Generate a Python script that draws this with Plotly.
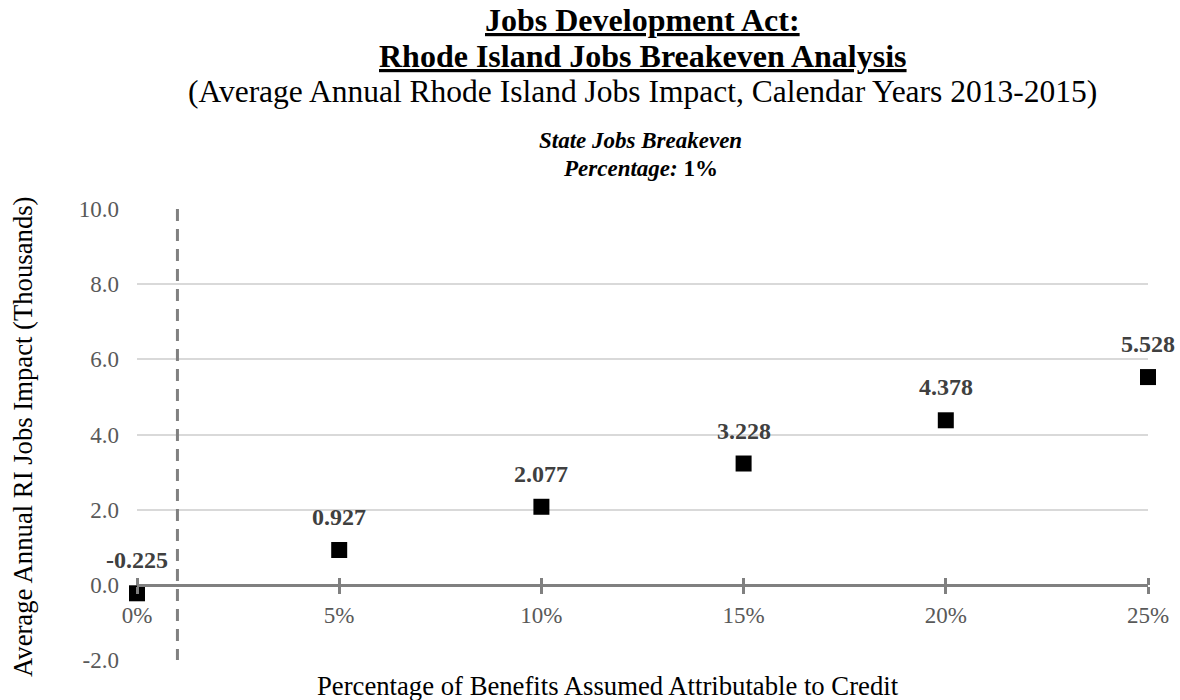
import plotly.graph_objects as go

# Breakeven analysis data
pct_attributable = [0, 5, 10, 15, 20, 25]          # % of benefits attributable to credit
jobs_impact = [-0.225, 0.927, 2.077, 3.228, 4.378, 5.528]  # thousands of RI jobs
breakeven_pct = 1
y_ticks = [-2, 0, 2, 4, 6, 8, 10]
x_ticks = [0, 5, 10, 15, 20, 25]

SERIF = "Liberation Serif, Times New Roman, serif"
AXIS_GRAY = "#808080"
TICK_GRAY = "#595959"
LABEL_GRAY = "#404040"

# plot-area geometry in pixels (used for paper-coordinate text placement)
W, H = 1180, 700
L, R, T, B = 137, 32, 209, 40
plot_h = H - T - B
plot_w = W - L - R


def py(pix):
    return (H - B - pix) / plot_h


def px(pix):
    return (pix - L) / plot_w


fig = go.Figure()

# vertical breakeven reference line
fig.add_trace(go.Scatter(
    x=[breakeven_pct, breakeven_pct], y=[y_ticks[-1], y_ticks[0]],
    mode="lines", xaxis="x2",
    line=dict(color=AXIS_GRAY, width=3, dash="12px,8px"),
    hoverinfo="skip", showlegend=False,
))

# jobs impact points
fig.add_trace(go.Scatter(
    x=pct_attributable, y=jobs_impact, mode="markers",
    marker=dict(symbol="square", size=16, color="black"),
    cliponaxis=False, showlegend=False,
))

annotations = []
for xv, yv in zip(pct_attributable, jobs_impact):
    annotations.append(dict(
        x=xv, y=yv, xref="x", yref="y", text=f"<b>{yv:.3f}</b>",
        showarrow=False, yshift=33, xanchor="center", yanchor="middle",
        font=dict(family=SERIF, size=24, color=LABEL_GRAY),
    ))

# titles
annotations += [
    dict(x=0.5, xref="paper", xanchor="center", y=py(20), yref="paper", yanchor="middle",
         text="<b><u>Jobs Development Act:</u></b>", showarrow=False,
         font=dict(family=SERIF, size=32, color="black")),
    dict(x=0.5, xref="paper", xanchor="center", y=py(56), yref="paper", yanchor="middle",
         text="<b><u>Rhode Island Jobs Breakeven Analysis</u></b>", showarrow=False,
         font=dict(family=SERIF, size=32, color="black")),
    dict(x=0.5, xref="paper", xanchor="center", y=py(92), yref="paper", yanchor="middle",
         text="(Average Annual Rhode Island Jobs Impact, Calendar Years 2013-2015)",
         showarrow=False, font=dict(family=SERIF, size=31.5, color="black")),
    dict(x=px(640), xref="paper", xanchor="center", y=py(141), yref="paper", yanchor="middle",
         text="<b><i>State Jobs Breakeven</i></b>", showarrow=False,
         font=dict(family=SERIF, size=23, color="black")),
    dict(x=px(640), xref="paper", xanchor="center", y=py(168), yref="paper", yanchor="middle",
         text=f"<b><i>Percentage:</i> {breakeven_pct}%</b>", showarrow=False,
         font=dict(family=SERIF, size=23, color="black")),
    # axis titles
    dict(x=px(608), xref="paper", xanchor="center", y=py(686), yref="paper", yanchor="middle",
         text="Percentage of Benefits Assumed Attributable to Credit", showarrow=False,
         font=dict(family=SERIF, size=26.7, color="black")),
    dict(x=px(23), xref="paper", xanchor="center", y=py(437), yref="paper", yanchor="middle",
         text="Average Annual RI Jobs Impact (Thousands)", textangle=-90, showarrow=False,
         font=dict(family=SERIF, size=26.7, color="black")),
]

axis_pos = (0 - y_ticks[0]) / (y_ticks[-1] - y_ticks[0])

fig.update_layout(
    width=W, height=H,
    margin=dict(l=L, r=R, t=T, b=B),
    paper_bgcolor="white", plot_bgcolor="white",
    showlegend=False,
    xaxis=dict(
        range=[0, 25], tickvals=x_ticks, ticktext=[f"{v}%" for v in x_ticks],
        anchor="free", position=axis_pos,
        showline=True, linecolor=AXIS_GRAY, linewidth=3,
        ticks="outside", ticklen=7, tickwidth=3, tickcolor=AXIS_GRAY,
        ticklabelstandoff=2,
        showgrid=False, zeroline=False,
        tickfont=dict(family=SERIF, size=23, color=TICK_GRAY),
    ),
    xaxis2=dict(
        range=[0, 25], tickvals=x_ticks, overlaying="x", side="top",
        anchor="free", position=axis_pos,
        showline=False, ticks="outside", ticklen=7, tickwidth=3, tickcolor=AXIS_GRAY,
        showticklabels=False, showgrid=False, zeroline=False,
    ),
    yaxis=dict(
        range=[y_ticks[0], y_ticks[-1]], tickvals=y_ticks,
        ticktext=[f"{v:.1f}" for v in y_ticks],
        showgrid=True, gridcolor="#d9d9d9", gridwidth=1.5,
        zeroline=False, showline=False, ticks="", ticklabelstandoff=17,
        tickfont=dict(family=SERIF, size=23, color=TICK_GRAY),
    ),
    annotations=annotations,
)

fig.write_html("out.html")
